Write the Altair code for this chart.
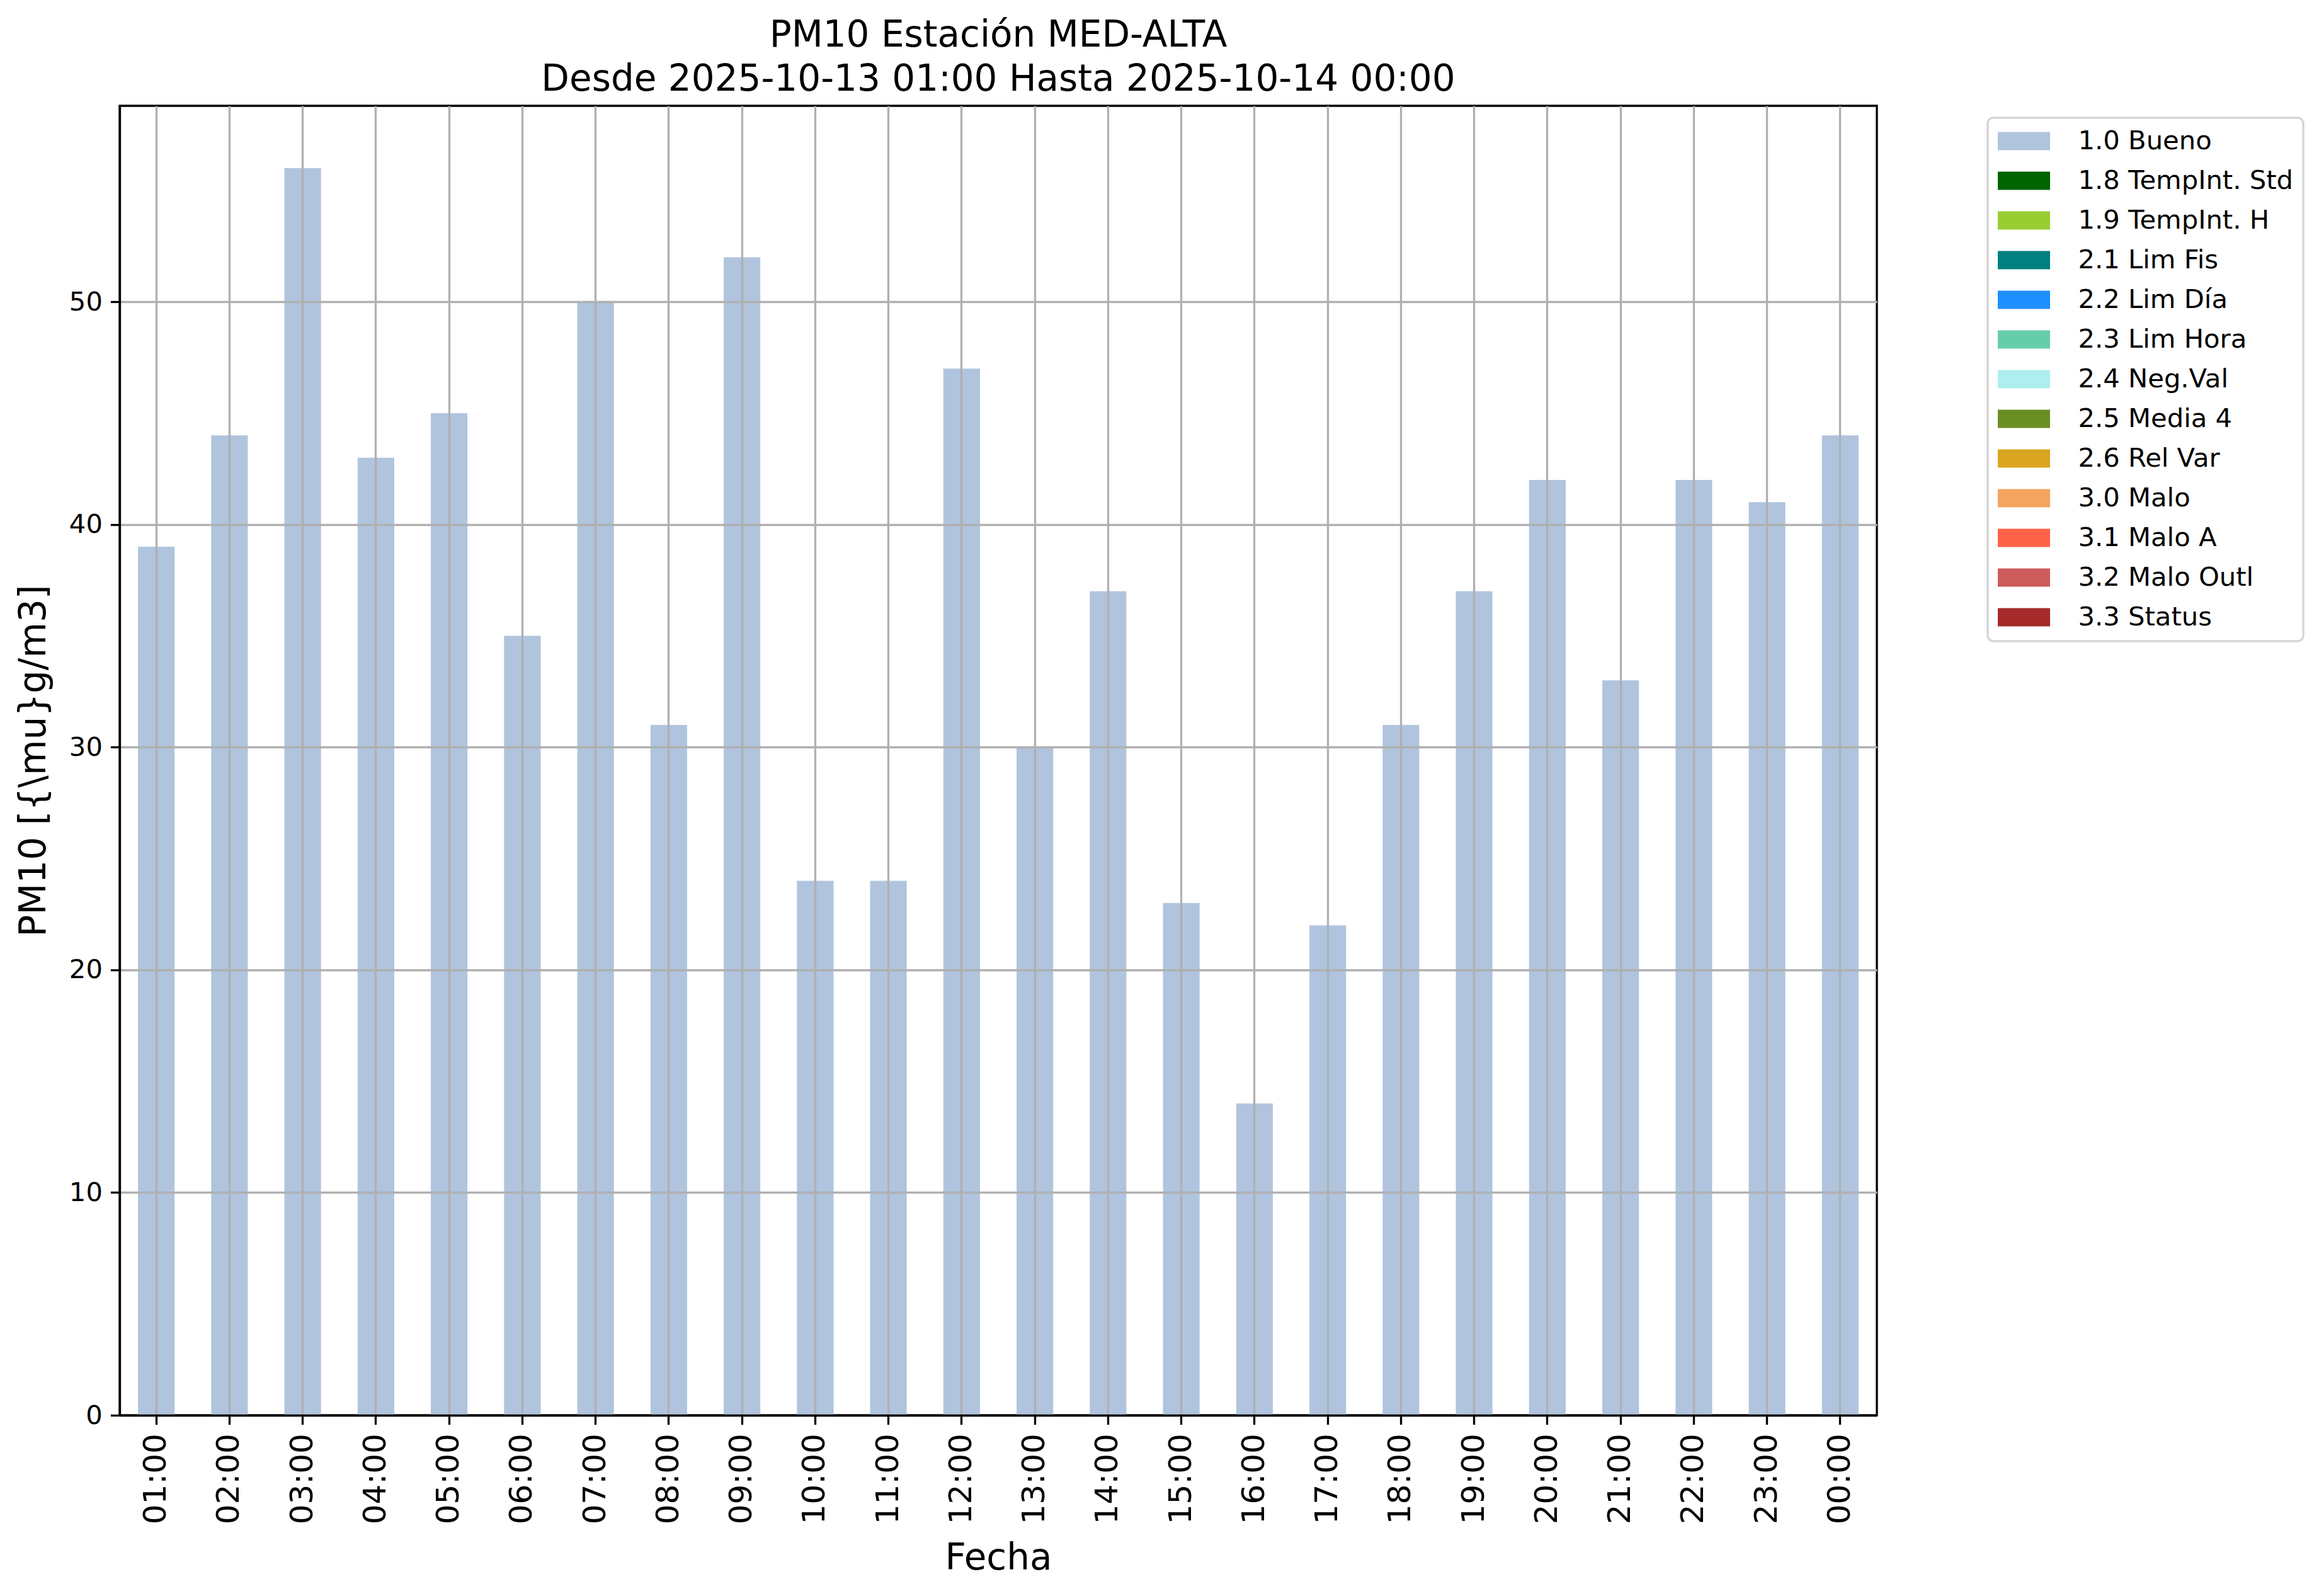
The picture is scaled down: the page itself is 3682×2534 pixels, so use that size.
import altair as alt
import pandas as pd

hours = ["01:00", "02:00", "03:00", "04:00", "05:00", "06:00", "07:00", "08:00",
         "09:00", "10:00", "11:00", "12:00", "13:00", "14:00", "15:00", "16:00",
         "17:00", "18:00", "19:00", "20:00", "21:00", "22:00", "23:00", "00:00"]
pm10_values = [39, 44, 56, 43, 45, 35, 50, 31, 52, 24, 24, 47,
               30, 37, 23, 14, 22, 31, 37, 42, 33, 42, 41, 44]
bar_status = ["1.0 Bueno"] * len(hours)

status_labels = ["1.0 Bueno", "1.8 TempInt. Std", "1.9 TempInt. H", "2.1 Lim Fis",
                 "2.2 Lim Día", "2.3 Lim Hora", "2.4 Neg.Val", "2.5 Media 4",
                 "2.6 Rel Var", "3.0 Malo", "3.1 Malo A", "3.2 Malo Outl", "3.3 Status"]
status_colors = ["#b0c4de", "#006400", "#9acd32", "#008080", "#1e90ff", "#66cdaa",
                 "#afeeee", "#6b8e23", "#daa520", "#f4a460", "#ff6347", "#cd5c5c",
                 "#a52a2a"]
y_ticks = [0, 10, 20, 30, 40, 50]

df = pd.DataFrame({"hora": hours, "pm10": pm10_values, "estado": bar_status})

FONT = "DejaVu Sans"
LW = 3.3

chart = alt.Chart(df).mark_bar(opacity=1).encode(
    x=alt.X(
        "hora:N", sort=hours, title="Fecha",
        scale=alt.Scale(paddingInner=0.5, paddingOuter=0.25),
        axis=alt.Axis(labelAngle=270, labelFontSize=50, labelFont=FONT, labelColor="black",
                      labelPadding=14, tickSize=14.6, tickWidth=LW, tickColor="black",
                      domainColor="black", domainWidth=LW, grid=True, gridColor="#b0b0b0",
                      gridWidth=LW, bandPosition=0.5, titleFontSize=58, titleFont=FONT,
                      titleFontWeight="normal", titleColor="black", titlePadding=26,
                      zindex=1),
    ),
    y=alt.Y(
        "pm10:Q", title="PM10 [{\\mu}g/m3]",
        scale=alt.Scale(domain=[0, 58.8], nice=False, zero=True),
        axis=alt.Axis(values=y_ticks, labelFontSize=41.7, labelFont=FONT, labelColor="black",
                      labelPadding=13, tickSize=14.6, tickWidth=LW, tickColor="black",
                      domainColor="black", domainWidth=LW, grid=True, gridColor="#b0b0b0",
                      gridWidth=LW, titleFontSize=58, titleFont=FONT,
                      titleFontWeight="normal", titleColor="black", titlePadding=26,
                      zindex=1),
    ),
    color=alt.Color(
        "estado:N",
        scale=alt.Scale(domain=status_labels, range=status_colors),
        legend=alt.Legend(title=None, orient="none", legendX=2966, legendY=19,
                          symbolType="M-2,-0.7H2V0.7H-2Z", symbolSize=1722.25,
                          symbolStrokeWidth=0, symbolOffset=20.5, labelOffset=65,
                          labelFontSize=41.7, labelFont=FONT, labelColor="black",
                          labelLimit=1000, rowPadding=20, padding=16,
                          strokeColor="#d6d6d6", cornerRadius=9, fillColor="white",
                          symbolOpacity=1),
    ),
).properties(
    width=2790,
    height=2079,
    title=alt.Title(["PM10 Estación MED-ALTA", "Desde 2025-10-13 01:00 Hasta 2025-10-14 00:00"],
                    fontSize=58, font=FONT, fontWeight="normal", color="black",
                    lineHeight=70, anchor="middle", frame="group", offset=-34,
                    baseline="alphabetic"),
    padding={"left": 17, "top": 20, "right": 4, "bottom": 8},
).configure_view(
    stroke="black", strokeWidth=LW
).configure_legend(
    strokeWidth=3.5
)

chart.save("out.html", embed_options={"renderer": "svg", "actions": False})
